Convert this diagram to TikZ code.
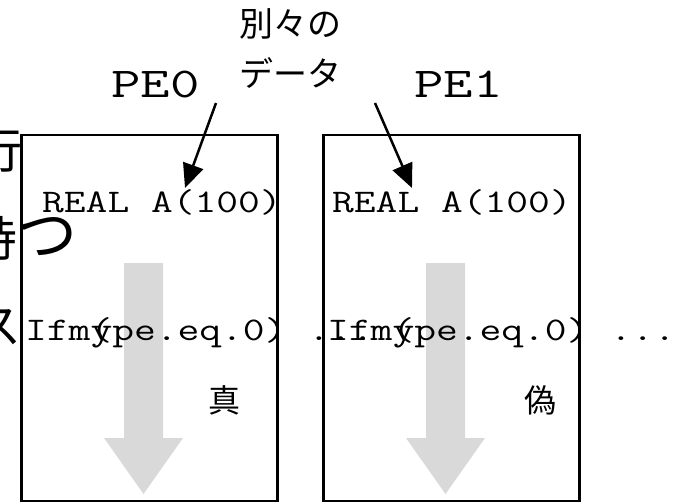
\documentclass[tikz,border=0pt]{standalone}
\usepackage{fontspec}
\usepackage{graphicx}
\newfontfamily\jpfont{Noto Sans CJK JP}
\usetikzlibrary{arrows.meta}
\definecolor{lightg}{RGB}{217,217,217}
\newcommand\codetext[1]{\scalebox{1.281}[1]{\fontsize{33}{33}\selectfont\ttfamily #1}}
\newcommand\petext[1]{\scalebox{1.345}[1]{\fontsize{42.5}{42.5}\selectfont\ttfamily #1}}
\tikzset{
  pebox/.style={draw, line width=2.5pt},
  flowarrow/.style={fill=lightg},
  code/.style={anchor=base west, inner sep=0pt},
  jplabel/.style={anchor=base, inner sep=0pt, font=\jpfont\fontsize{34}{34}\selectfont},
  sidetext/.style={anchor=base east, inner sep=0pt, font=\jpfont\fontsize{48}{48}\selectfont},
  tftext/.style={anchor=base, inner sep=0pt, font=\jpfont\fontsize{32}{32}\selectfont},
  pointer/.style={line width=2.5pt, -{Triangle[length=24pt,width=21pt]}}
}
\begin{document}
\begin{tikzpicture}[x=1pt,y=-1pt]
\useasboundingbox (0,0) rectangle (686,503);
\clip (0,0) rectangle (686,503);
% boxes
\draw[pebox] (21.5,135) rectangle (277.5,501);
\draw[pebox] (323.5,135) rectangle (579.5,501);
% gray flow arrows
\fill[flowarrow] (124,263) -- (163,263) -- (163,438) -- (183,438) -- (143.5,494) -- (104,438) -- (124,438) -- cycle;
\fill[flowarrow] (426,263) -- (465,263) -- (465,438) -- (485,438) -- (445.5,494) -- (406,438) -- (426,438) -- cycle;
% cut-off side text
\node[sidetext] (s1) at (23,168) {行};
\node[sidetext] (s2) at (78,256) {持{\fontsize{60}{60}\selectfont つ}};
\node[sidetext] (s3) at (22,343) {ス};
% labels
\node[code] (pe0) at (111,98) {\petext{PE0}};
\node[code] (pe1) at (414,98) {\petext{PE1}};
\node[jplabel] (l1) at (290,37) {別々の};
\node[jplabel] (l2) at (290,87) {データ};
% code lines
\node[code] (real0) at (42,212) {\codetext{REAL A(100)}};
\node[code] (real1) at (332,212) {\codetext{REAL A(100)}};
\node[code] (if0) at (25,340) {\codetext{Ifm\rlap{(}ype.eq.0) ...}};
\node[code] (if1) at (327,340) {\codetext{Ifm\rlap{(}ype.eq.0) ...}};
\node[tftext] (t0) at (224,412) {真};
\node[tftext] (t1) at (540,412) {偽};
% pointers
\coordinate (a0) at (216,103);
\coordinate (b0) at (185,188);
\coordinate (a1) at (375,103);
\coordinate (b1) at (412,188);
\draw[pointer] (a0) -- (b0);
\draw[pointer] (a1) -- (b1);
\end{tikzpicture}
\end{document}
